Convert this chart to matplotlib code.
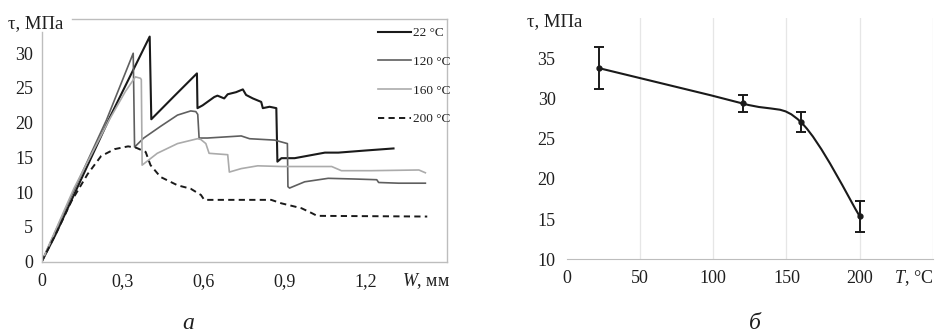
import matplotlib
matplotlib.use("Agg")
import matplotlib.pyplot as plt
from matplotlib.path import Path
from matplotlib.patches import PathPatch

plt.rcParams["font.family"] = ["Liberation Serif", "DejaVu Serif"]
plt.rcParams["mathtext.fontset"] = "custom"
plt.rcParams["mathtext.it"] = "Liberation Serif:italic"
plt.rcParams["mathtext.rm"] = "Liberation Serif"

# --- (а) диаграммы сдвига при разных температурах
w_22 = [0, 0.05, 0.254, 0.40, 0.406, 0.49, 0.575, 0.577, 0.596, 0.639, 0.651, 0.676, 0.689,
        0.72, 0.745, 0.757, 0.782, 0.813, 0.819, 0.844, 0.869, 0.873, 0.888, 0.937, 1.049,
        1.099, 1.198, 1.303]
t_22 = [0, 3.8, 20.9, 32.4, 20.5, 23.8, 27.1, 22.1, 22.5, 23.7, 23.9, 23.5, 24.1,
        24.4, 24.8, 24.0, 23.5, 23.0, 22.1, 22.3, 22.1, 14.4, 14.9, 14.9, 15.7,
        15.7, 16.0, 16.3]

w_120 = [0, 0.12, 0.24, 0.339, 0.344, 0.378, 0.441, 0.503, 0.552, 0.571, 0.578, 0.583, 0.614,
         0.739, 0.77, 0.863, 0.91, 0.912, 0.918, 0.974, 1.061, 1.16, 1.241, 1.248, 1.322, 1.421]
t_120 = [0, 10.3, 20.4, 30.0, 16.5, 17.8, 19.5, 21.1, 21.7, 21.6, 21.2, 17.8, 17.8,
         18.1, 17.7, 17.5, 17.0, 10.8, 10.6, 11.5, 12.0, 11.9, 11.8, 11.4, 11.3, 11.3]

w_160 = [0, 0.12, 0.25, 0.31, 0.347, 0.366, 0.369, 0.372, 0.428, 0.503, 0.577, 0.589, 0.608,
         0.62, 0.689, 0.695, 0.739, 0.80, 0.888, 1.074, 1.11, 1.22, 1.397, 1.421]
t_160 = [0, 10.6, 20.4, 24.5, 26.6, 26.4, 26.2, 13.9, 15.6, 17.0, 17.7, 17.6, 17.0,
         15.6, 15.4, 12.9, 13.4, 13.8, 13.7, 13.7, 13.1, 13.1, 13.2, 12.8]

w_200 = [0, 0.06, 0.11, 0.17, 0.22, 0.27, 0.32, 0.35, 0.385, 0.403, 0.44, 0.503, 0.552,
         0.59, 0.602, 0.85, 0.888, 0.962, 1.0, 1.02, 1.428]
t_200 = [0, 4.6, 8.7, 12.6, 15.2, 16.2, 16.6, 16.4, 15.8, 13.9, 12.2, 11.0, 10.5,
         9.6, 8.9, 8.9, 8.4, 7.7, 7.0, 6.6, 6.5]

x_ticks_a = [0, 0.3, 0.6, 0.9, 1.2]
x_labels_a = ["0", "0,3", "0,6", "0,9", "1,2"]
y_ticks_a = [0, 5, 10, 15, 20, 25, 30]

# --- (б) зависимость прочности от температуры
temp = [22, 120, 160, 200]
tau = [33.8, 29.4, 27.05, 15.35]
tau_err = [2.6, 1.1, 1.25, 1.95]
x_ticks_b = [0, 50, 100, 150, 200]
y_ticks_b = [10, 15, 20, 25, 30, 35]
grid_b = [50, 100, 150, 200, 250]

frame = "#bdbdbd"
txt = "#1f1f1f"

fig = plt.figure(figsize=(9.41, 3.33), dpi=100)
ax1 = fig.add_axes([0.0443, 0.2141, 0.4304, 0.7303])
ax2 = fig.add_axes([0.6022, 0.2213, 0.3893, 0.7237])

# а
ax1.plot(w_22, t_22, color="#1a1a1a", lw=1.5, label="22 °C")
ax1.plot(w_120, t_120, color="#5f5f5f", lw=1.2, label="120 °C")
ax1.plot(w_160, t_160, color="#ababab", lw=1.2, label="160 °C")
ax1.plot(w_200, t_200, color="#1a1a1a", lw=1.4, dashes=(3.2, 2.2), label="200 °C")
ax1.set_xlim(0, 1.5)
ax1.set_ylim(0, 35)
ax1.set_xticks(x_ticks_a, labels=x_labels_a)
ax1.set_yticks(y_ticks_a)
ax1.tick_params(length=0, labelsize=13, colors=txt)
ax1.tick_params(axis="x", pad=8)
ax1.tick_params(axis="y", pad=6)
for s in ax1.spines.values():
    s.set_color(frame)
    s.set_linewidth(1)
ax1.spines["left"].set_bounds(0, 33.1)
ax1.spines["top"].set_bounds(0.113, 1.5)
leg = ax1.legend(loc="upper left", bbox_to_anchor=(0.83, 0.965), frameon=False, fontsize=9.5,
                 handlelength=2.5, handletextpad=0.2, labelspacing=1.25,
                 borderpad=0, borderaxespad=0)
for t in leg.get_texts():
    t.set_color(txt)
ax1.text(-0.083, 0.981, "τ, МПа", transform=ax1.transAxes, fontsize=13.5, color=txt,
         ha="left", va="center")
ax1.text(0.89, -0.08, r"$\mathit{W}$, мм", transform=ax1.transAxes, fontsize=13,
         color=txt, ha="left", va="center")

# б
for g in grid_b:
    ax2.axvline(g, color="#e6e6e6", lw=0.9, zorder=0)
# сглаженная линия (как в Excel)
pts = list(zip(temp, tau))
verts = [pts[0]]
codes = [Path.MOVETO]
for i in range(len(pts) - 1):
    p0 = pts[max(i - 1, 0)]
    p1 = pts[i]
    p2 = pts[i + 1]
    p3 = pts[min(i + 2, len(pts) - 1)]
    c1 = (p1[0] + (p2[0] - p0[0]) / 6, p1[1] + (p2[1] - p0[1]) / 6)
    c2 = (p2[0] - (p3[0] - p1[0]) / 6, p2[1] - (p3[1] - p1[1]) / 6)
    verts += [c1, c2, p2]
    codes += [Path.CURVE4] * 3
ax2.add_patch(PathPatch(Path(verts, codes), fill=False, edgecolor="#1a1a1a", lw=1.5))
ax2.errorbar(temp, tau, yerr=tau_err, fmt="o", color="#1a1a1a", ms=3.5,
             capsize=3.5, elinewidth=1.4, capthick=1.4)
ax2.set_xlim(0, 250)
ax2.set_ylim(10, 40)
ax2.set_xticks(x_ticks_b)
ax2.set_yticks(y_ticks_b)
ax2.tick_params(length=0, labelsize=13, colors=txt)
ax2.tick_params(axis="x", pad=8)
ax2.tick_params(axis="y", pad=8)
for k in ["left", "top", "right"]:
    ax2.spines[k].set_visible(False)
ax2.spines["bottom"].set_color(frame)
ax2.text(-0.108, 0.985, "τ, МПа", transform=ax2.transAxes, fontsize=13.5, color=txt,
         ha="left", va="center")
ax2.text(0.893, -0.08, r"$\mathit{T}$, °C", transform=ax2.transAxes, fontsize=13,
         color=txt, ha="left", va="center")

fig.text(0.2, 0.03, "а", fontsize=17, style="italic", color=txt, ha="center", va="center")
fig.text(0.802, 0.03, "б", fontsize=17, style="italic", color=txt, ha="center", va="center")

fig.savefig("out.png", dpi=100)
